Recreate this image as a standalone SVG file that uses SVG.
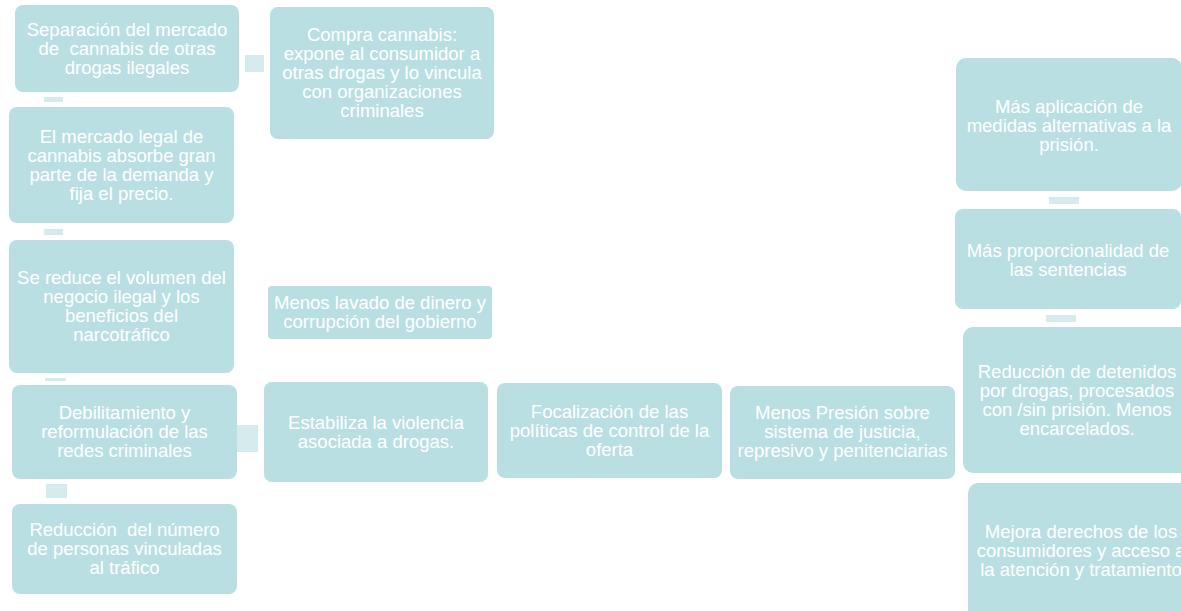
<svg xmlns="http://www.w3.org/2000/svg" width="1181" height="611" viewBox="0 0 1181 611">
<style>
.box{fill:#badfe2;}
.con{fill:#d5ebed;}
text{font-family:"Liberation Sans",Arial,sans-serif;font-size:18.5px;fill:#ffffff;text-anchor:middle;white-space:pre;}
</style>
<rect width="1181" height="611" fill="#ffffff"/>
<g id="connectors">
<rect class="con" x="245" y="55" width="19" height="17"/>
<rect class="con" x="44" y="97" width="19" height="5"/>
<rect class="con" x="44" y="229" width="19" height="6"/>
<rect class="con" x="45" y="378" width="21" height="3"/>
<rect class="con" x="234" y="425" width="24" height="27"/>
<rect class="con" x="46" y="484" width="21" height="14"/>
<rect class="con" x="1049" y="197" width="30" height="7"/>
<rect class="con" x="1046" y="315" width="30" height="7"/>
</g>
<g id="n1"><rect class="box" x="15" y="5" width="224" height="87" rx="8"/>
<text x="127" y="36">Separación del mercado</text><text x="127" y="55">de  cannabis de otras</text><text x="127" y="74">drogas ilegales</text></g>
<g id="n2"><rect class="box" x="270" y="7" width="224" height="132" rx="8"/>
<text x="382" y="41">Compra cannabis:</text><text x="382" y="60">expone al consumidor a</text><text x="382" y="79">otras drogas y lo vincula</text><text x="382" y="98">con organizaciones</text><text x="382" y="117">criminales</text></g>
<g id="n3"><rect class="box" x="9" y="107" width="225" height="116" rx="8"/>
<text x="121.5" y="143">El mercado legal de</text><text x="121.5" y="162">cannabis absorbe gran</text><text x="121.5" y="181">parte de la demanda y</text><text x="121.5" y="200">fija el precio.</text></g>
<g id="n4"><rect class="box" x="9" y="240" width="225" height="133" rx="8"/>
<text x="121.5" y="284">Se reduce el volumen del</text><text x="121.5" y="303">negocio ilegal y los</text><text x="121.5" y="322">beneficios del</text><text x="121.5" y="341">narcotráfico</text></g>
<g id="n5"><rect class="box" x="12" y="385" width="225" height="94" rx="8"/>
<text x="124.5" y="419">Debilitamiento y</text><text x="124.5" y="438">reformulación de las</text><text x="124.5" y="457">redes criminales</text></g>
<g id="n6"><rect class="box" x="12" y="504" width="225" height="90" rx="8"/>
<text x="124.5" y="536">Reducción  del número</text><text x="124.5" y="555">de personas vinculadas</text><text x="124.5" y="574">al tráfico</text></g>
<g id="n7"><rect class="box" x="268" y="286" width="224" height="53" rx="4"/>
<text x="380" y="309">Menos lavado de dinero y</text><text x="380" y="328">corrupción del gobierno</text></g>
<g id="n8"><rect class="box" x="264" y="382" width="224" height="100" rx="8"/>
<text x="376" y="429">Estabiliza la violencia</text><text x="376" y="448">asociada a drogas.</text></g>
<g id="n9"><rect class="box" x="497" y="383" width="225" height="95" rx="8"/>
<text x="609.5" y="418">Focalización de las</text><text x="609.5" y="437">políticas de control de la</text><text x="609.5" y="456">oferta</text></g>
<g id="n10"><rect class="box" x="730" y="386" width="225" height="93" rx="8"/>
<text x="842.5" y="419">Menos Presión sobre</text><text x="842.5" y="438">sistema de justicia,</text><text x="842.5" y="457">represivo y penitenciarias</text></g>
<g id="n11"><rect class="box" x="956" y="58" width="226" height="133" rx="10"/>
<text x="1069" y="113">Más aplicación de</text><text x="1069" y="132">medidas alternativas a la</text><text x="1069" y="151">prisión.</text></g>
<g id="n12"><rect class="box" x="955" y="209" width="226" height="100" rx="8"/>
<text x="1068" y="257">Más proporcionalidad de</text><text x="1068" y="276">las sentencias</text></g>
<g id="n13"><rect class="box" x="963" y="327" width="228" height="146" rx="10"/>
<text x="1077" y="378">Reducción de detenidos</text><text x="1077" y="397">por drogas, procesados</text><text x="1077" y="416">con /sin prisión. Menos</text><text x="1077" y="435">encarcelados.</text></g>
<g id="n14"><rect class="box" x="968" y="483" width="226" height="140" rx="10"/>
<text x="1081" y="538">Mejora derechos de los</text><text x="1081" y="557">consumidores y acceso a</text><text x="1081" y="576">la atención y tratamiento</text></g>
</svg>
